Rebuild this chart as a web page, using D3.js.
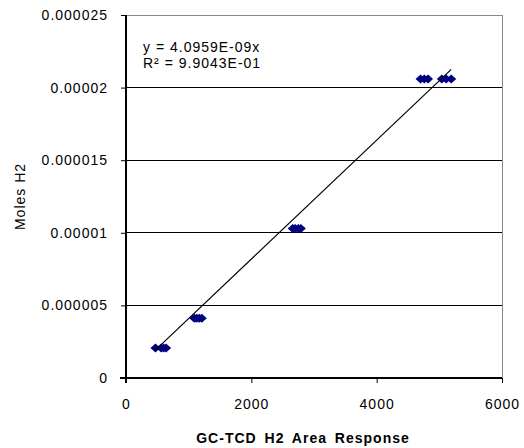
<!DOCTYPE html>
<html>
<head>
<meta charset="utf-8">
<script src="https://cdn.jsdelivr.net/npm/d3@7"></script>
<style>
  body { margin: 0; background: #fff; }
  text { font-family: "Liberation Sans", Arial, sans-serif; }
</style>
</head>
<body>
<svg id="chart" width="524" height="448"></svg>
<script>
const width = 524;
const height = 448;
const margin = { top: 15, right: 22, bottom: 70, left: 126 };

// measured points (area response, moles H2)
const areaResponse = [470, 560, 600, 640, 1090, 1130, 1170, 1210, 2660, 2700, 2750, 2790, 4700, 4760, 4820, 5040, 5110, 5190];
const molesH2 = [2.06e-6, 2.06e-6, 2.06e-6, 2.06e-6, 4.12e-6, 4.12e-6, 4.12e-6, 4.12e-6, 1.03e-5, 1.03e-5, 1.03e-5, 1.03e-5, 2.06e-5, 2.06e-5, 2.06e-5, 2.06e-5, 2.06e-5, 2.06e-5];
const slope = 4.0959e-9;
const xTicks = [0, 2000, 4000, 6000];
const yTicks = [0, 0.000005, 0.00001, 0.000015, 0.00002, 0.000025];
const yTickLabels = ["0", "0.000005", "0.00001", "0.000015", "0.00002", "0.000025"];
const equationLines = ["y = 4.0959E-09x", "R\u00b2 = 9.9043E-01"];

const svg = d3.select("#chart");

const xScale = d3.scaleLinear().domain([0, 6000]).range([margin.left, width - margin.right]);
const yScale = d3.scaleLinear().domain([0, 0.000025]).range([height - margin.bottom, margin.top]);

// gridlines
svg.append("g")
    .selectAll("line")
    .data(yTicks.slice(1))
    .join("line")
    .attr("x1", xScale(0))
    .attr("x2", xScale(6000))
    .attr("y1", d => yScale(d))
    .attr("y2", d => yScale(d))
    .attr("stroke", (d, i) => i === yTicks.length - 2 ? "#888" : "#000")
    .attr("stroke-width", 1)
    .attr("shape-rendering", "crispEdges");

// right border
svg.append("line")
    .attr("x1", xScale(6000)).attr("x2", xScale(6000))
    .attr("y1", yScale(0.000025)).attr("y2", yScale(0))
    .attr("stroke", "#888")
    .attr("shape-rendering", "crispEdges");

// y axis
const yAxis = svg.append("g")
    .attr("transform", `translate(${xScale(0)},0)`)
    .call(d3.axisLeft(yScale).tickValues(yTicks).tickSize(5).tickPadding(13)
        .tickFormat((d, i) => yTickLabels[i]));
yAxis.select(".domain").attr("stroke-width", 2).attr("d", `M0,${yScale(0) + 5}V${yScale(0.000025)}`);
yAxis.selectAll(".tick line").attr("stroke", "#000");
yAxis.selectAll("text")
    .attr("font-size", "14px")
    .attr("letter-spacing", "1px")
    .attr("fill", "#000")
    .attr("font-family", "Liberation Sans, Arial, sans-serif");

// x axis
const xAxis = svg.append("g")
    .attr("transform", `translate(0,${yScale(0)})`)
    .call(d3.axisBottom(xScale).tickValues(xTicks).tickSize(5).tickPadding(16).tickFormat(d3.format("d")));
xAxis.select(".domain").attr("stroke-width", 2).attr("d", `M${xScale(0) - 6},0H${xScale(6000)}`);
xAxis.selectAll("text")
    .attr("font-size", "14px")
    .attr("letter-spacing", "1px")
    .attr("fill", "#000")
    .attr("font-family", "Liberation Sans, Arial, sans-serif");

// data points (diamonds)
const points = areaResponse.map((x, i) => ({ x: x, y: molesH2[i] }));
svg.append("g")
    .selectAll("path")
    .data(points)
    .join("path")
    .attr("transform", d => `translate(${xScale(d.x)},${yScale(d.y)})`)
    .attr("d", "M0,-4.5L5,0L0,4.5L-5,0Z")
    .attr("fill", "#000080");

// trend line
const xExtent = d3.extent(areaResponse);
svg.append("line")
    .attr("x1", xScale(xExtent[0] - 10))
    .attr("y1", yScale(slope * (xExtent[0] - 10)))
    .attr("x2", xScale(xExtent[1]))
    .attr("y2", yScale(slope * xExtent[1]))
    .attr("stroke", "#000")
    .attr("stroke-width", 1.2);

// equation
svg.append("g")
    .selectAll("text")
    .data(equationLines)
    .join("text")
    .attr("x", 143)
    .attr("y", (d, i) => 52 + i * 16)
    .attr("font-size", "14px")
    .attr("letter-spacing", "1px")
    .text(d => d);

// axis titles
svg.append("text")
    .attr("x", (xScale(0) + xScale(6000)) / 2 - 11)
    .attr("y", 443)
    .attr("text-anchor", "middle")
    .attr("font-size", "14px")
    .attr("font-weight", "bold")
    .attr("letter-spacing", "1px")
    .attr("word-spacing", "3px")
    .text("GC-TCD H2 Area Response");

svg.append("text")
    .attr("transform", `translate(25,${(yScale(0) + yScale(0.000025)) / 2}) rotate(-90)`)
    .attr("text-anchor", "middle")
    .attr("font-size", "14px")
    .attr("letter-spacing", "1px")
    .text("Moles H2");
</script>
</body>
</html>
